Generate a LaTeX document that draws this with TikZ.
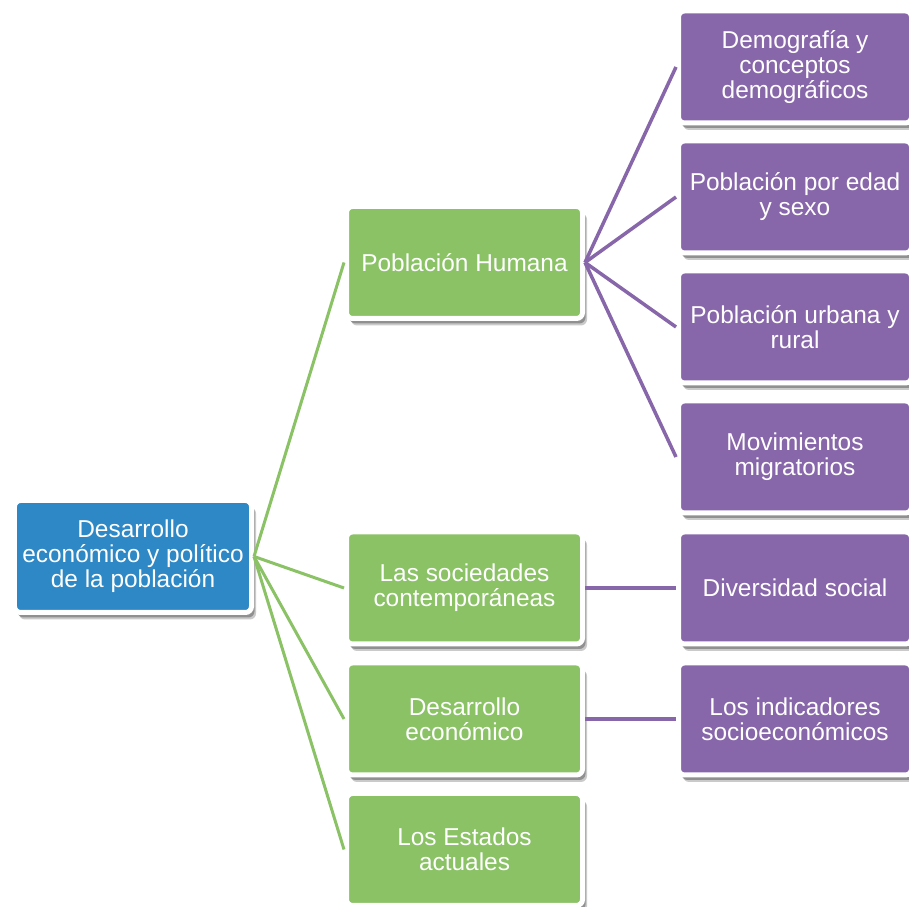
\documentclass[tikz,border=0pt]{standalone}
\usepackage{fontspec}
\setmainfont{Liberation Sans}
\usetikzlibrary{positioning, shadows}
\definecolor{rootblue}{HTML}{2D88C5}
\definecolor{topicgreen}{HTML}{8AC265}
\definecolor{itempurple}{HTML}{8866AA}

\begin{document}
\begin{tikzpicture}[node distance=0.27cm,
  block/.style={rectangle, draw=white, line width=0.1cm, rounded corners=0.12cm, minimum height=2.24cm, inner sep=0pt, align=center, text=white, font=\fontsize{13.9}{14.2}\selectfont,
    drop shadow={shadow xshift=0.09cm, shadow yshift=-0.14cm, fill=black!60, opacity=0.35},
    drop shadow={shadow xshift=0.06cm, shadow yshift=-0.1cm, fill=black!70, opacity=0.45}},
  rootbox/.style={block, fill=rootblue, minimum width=4.74cm},
  topicbox/.style={block, fill=topicgreen, minimum width=4.72cm},
  itembox/.style={block, fill=itempurple, minimum width=4.66cm},
  glink/.style={draw=topicgreen, line width=0.06cm},
  plink/.style={draw=itempurple, line width=0.07cm}]

\useasboundingbox (-2.66,-7.01) rectangle (15.52,11.13);

\node[rootbox] (root) {Desarrollo\\económico y político\\de la población};

\node[topicbox, right=1.8cm of root, yshift=-0.63cm] (soc) {Las sociedades\\contemporáneas};
\node[topicbox, below=0.28cm of soc] (deseco) {Desarrollo\\económico};
\node[topicbox, below=of deseco] (estados) {Los Estados\\actuales};
\node[topicbox, above=4.17cm of soc] (pob) {Población Humana};

\node[itembox, right=1.82cm of soc] (diversidad) {Diversidad social};
\node[itembox, right=1.82cm of deseco] (indic) {Los indicadores\\socioeconómicos};
\node[itembox, above=0.28cm of diversidad] (migr) {Movimientos\\migratorios};
\node[itembox, above=0.26cm of migr] (urbana) {Población urbana y\\rural};
\node[itembox, above=0.26cm of urbana] (edad) {Población por edad\\y sexo};
\node[itembox, above=0.26cm of edad] (demo) {Demografía y\\conceptos\\demográficos};

\draw[glink] (root.east) -- (pob.west);
\draw[glink] (root.east) -- (soc.west);
\draw[glink] (root.east) -- (deseco.west);
\draw[glink] (root.east) -- (estados.west);

\draw[plink] (pob.east) -- (demo.west);
\draw[plink] (pob.east) -- (edad.west);
\draw[plink] (pob.east) -- (urbana.west);
\draw[plink] (pob.east) -- (migr.west);
\draw[plink] (soc.east) -- (diversidad.west);
\draw[plink] (deseco.east) -- (indic.west);
\end{tikzpicture}
\end{document}
